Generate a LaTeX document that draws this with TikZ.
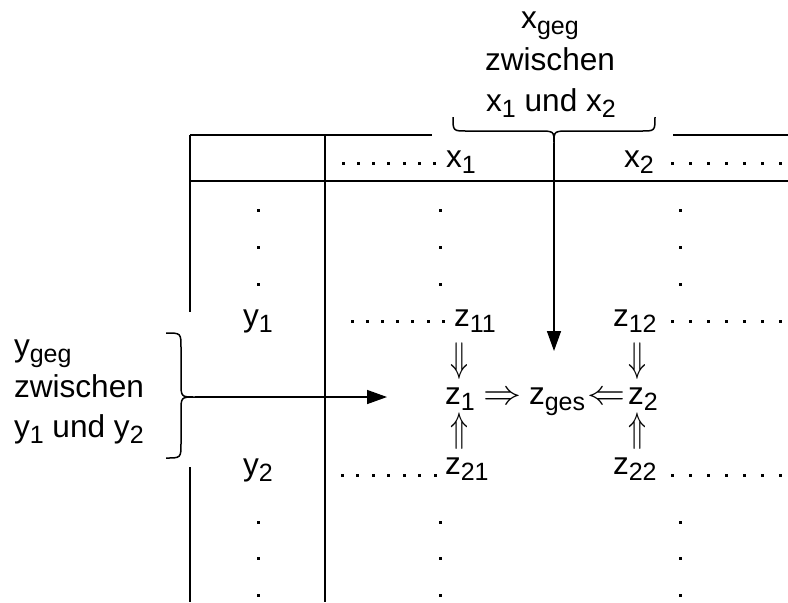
\documentclass[tikz,border=0pt]{standalone}
\usepackage{fontspec}
\usepackage{graphicx}
\setmainfont{Liberation Sans}
\usetikzlibrary{arrows.meta}
\newcommand\lsub[1]{\raisebox{-0.2em}{\fontsize{12.5pt}{12.5pt}\selectfont #1}}
\newcommand\dblv[1]{\scalebox{0.85}[1.2]{\fontsize{17pt}{17pt}\selectfont$#1$}}
\newcommand\dblh[1]{\scalebox{1.1}[1.0]{\fontsize{17pt}{17pt}\selectfont$#1$}}
\begin{document}
\begin{tikzpicture}[x=0.5pt,y=-0.5pt,
  every node/.style={inner sep=0pt,outer sep=0pt},
  txt/.style={font=\fontsize{15.8pt}{18pt}\selectfont},
  tline/.style={line width=1pt},
  conn/.style={line width=0.75pt},
  arr/.style={conn,-{Triangle[length=10pt,width=7pt]}}]
\useasboundingbox (0,0) rectangle (788,602);

% table lines
\draw[tline] (190,135) -- (432,135);
\draw[tline] (673,135) -- (788,135);
\draw[tline] (190,181) -- (788,181);
\draw[tline] (190,135) -- (190,312);
\draw[tline] (190,467) -- (190,602);
\draw[tline] (325,135) -- (325,602);

% top brace
\draw[conn] (453,117) .. controls (453,131) .. (467,131) -- (538,131)
  .. controls (554,131) .. (554,143)
  .. controls (554,131) .. (570,131) -- (641,131)
  .. controls (655,131) .. (655,117);
\coordinate (xtip) at (554,143);
\coordinate (xend) at (554,351);
\draw[arr] (xtip) -- (xend);

% left brace
\draw[conn] (166,333) .. controls (181,333) .. (181,348) -- (181,382)
  .. controls (181,397) .. (195,397)
  .. controls (181,397) .. (181,412) -- (181,443)
  .. controls (181,458) .. (166,458);
\coordinate (ytip) at (195,397);
\coordinate (yend) at (387,397);
\draw[arr] (ytip) -- (yend);

% top label
\node[txt,anchor=base] (xg1) at (550,28) {x\lsub{geg}};
\node[txt,anchor=base] (xg2) at (550,70) {zwischen};
\node[txt,anchor=base] (xg3) at (551,111) {x\lsub{1} und x\lsub{2}};

% left label
\node[txt,anchor=base west] (yg1) at (14,356) {y\lsub{geg}};
\node[txt,anchor=base west] (yg2) at (14,397) {zwischen};
\node[txt,anchor=base west] (yg3) at (14,437) {y\lsub{1} und y\lsub{2}};

% table entries
\node[txt,anchor=base west] (x1) at (446,167) {x\lsub{1}};
\node[txt,anchor=base west] (x2) at (624,167) {x\lsub{2}};
\node[txt,anchor=base] (y1) at (258,326) {y\lsub{1}};
\node[txt,anchor=base] (y2) at (258,475) {y\lsub{2}};
\node[txt,anchor=base west] (z11) at (454,326) {z\lsub{11}};
\node[txt,anchor=base west] (z12) at (613,326) {z\lsub{12}};
\node[txt,anchor=base west] (z21) at (445,474) {z\lsub{21}};
\node[txt,anchor=base west] (z22) at (613,474) {z\lsub{22}};
\node[txt,anchor=base west] (z1) at (445,404) {z\lsub{1}};
\node[txt,anchor=base west] (zges) at (529,404) {z\lsub{ges}};
\node[txt,anchor=base west] (z2) at (628,404) {z\lsub{2}};

% double arrows
\node (da1) at (459,361) {\dblv{\Downarrow}};
\node (da2) at (637,361) {\dblv{\Downarrow}};
\node (ua1) at (459,431) {\dblv{\Uparrow}};
\node (ua2) at (637,431) {\dblv{\Uparrow}};
\node (ra) at (503,398) {\dblh{\Rightarrow}};
\node (la) at (607,398) {\dblh{\Leftarrow}};

% dots
\foreach \k in {0,...,6} {
  \fill ({343+15.3*\k-1.5},161.5) rectangle +(3,3);
  \fill ({672+18*\k-1.5},161.5) rectangle +(3,3);
  \fill ({352+15.2*\k-1.5},319.5) rectangle +(3,3);
  \fill ({672+18*\k-1.5},319.5) rectangle +(3,3);
  \fill ({342+15.5*\k-1.5},473.5) rectangle +(3,3);
  \fill ({672+18*\k-1.5},473.5) rectangle +(3,3);
}
\foreach \xx in {258,440,680} {
  \foreach \yy in {210,247,284,522,558,595} {
    \fill (\xx-1.5,\yy-1.5) rectangle +(3,3);
  }
}
\end{tikzpicture}
\end{document}
